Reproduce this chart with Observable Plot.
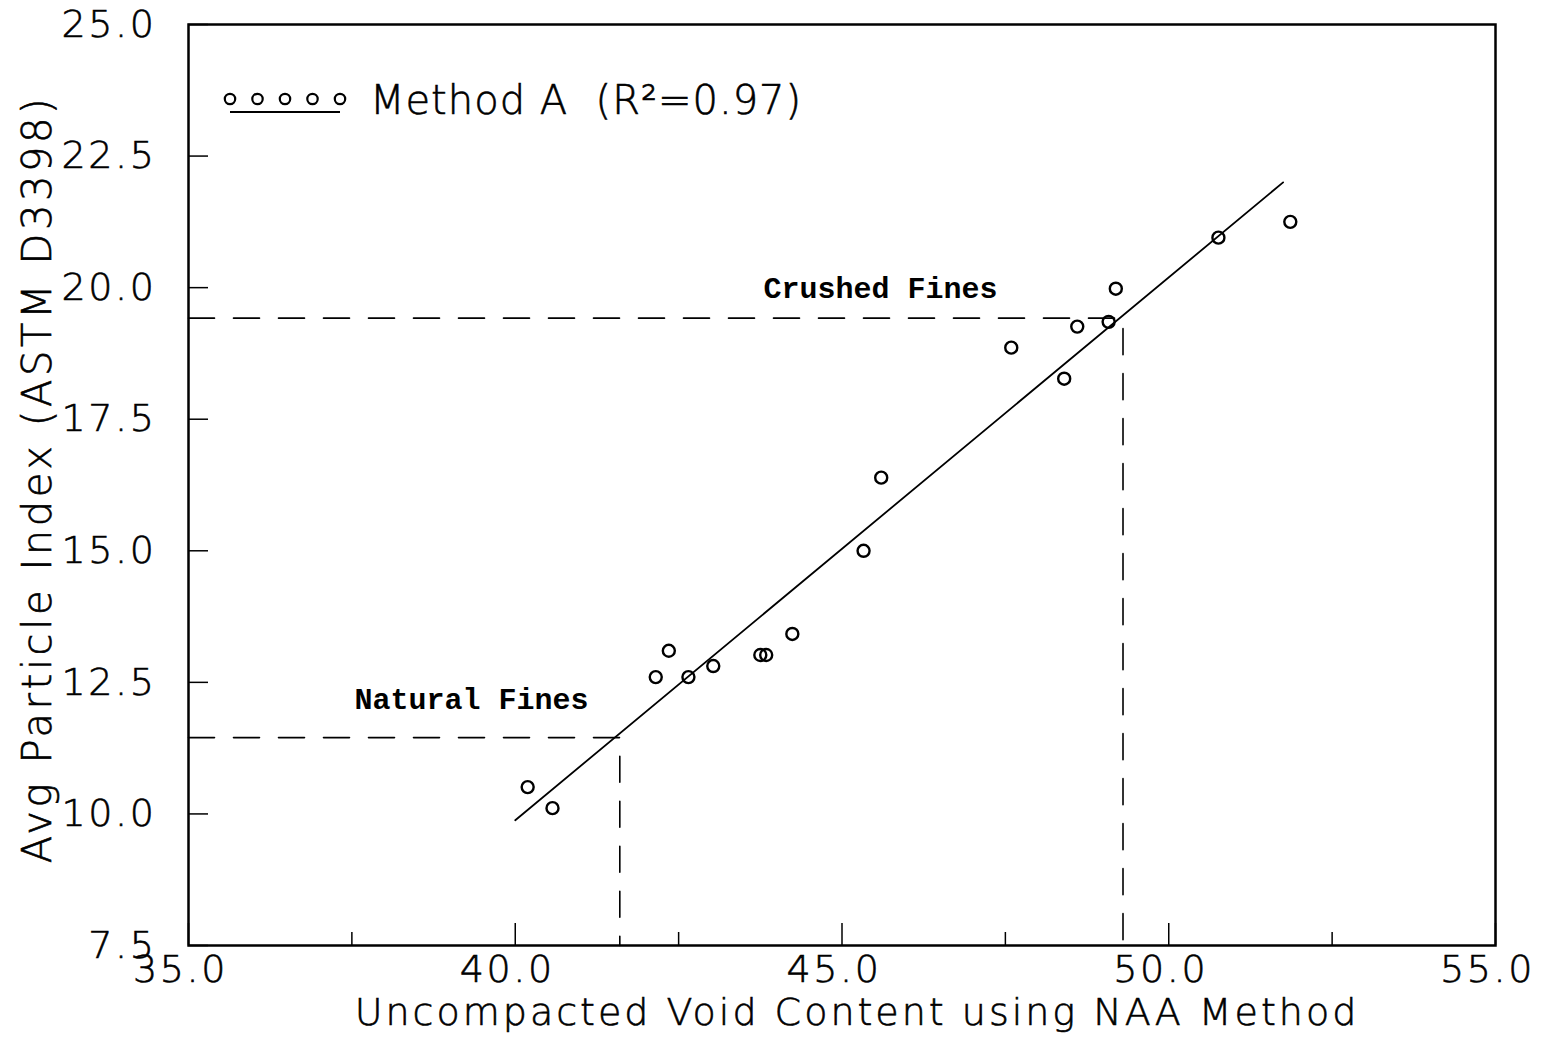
<!DOCTYPE html>
<html>
<head>
<meta charset="utf-8">
<script src="https://cdn.jsdelivr.net/npm/d3@7"></script>
<script src="https://cdn.jsdelivr.net/npm/@observablehq/plot@0.6"></script>
<style>
  html, body { margin: 0; padding: 0; background: #fff; }
  #chart { position: relative; width: 1541px; height: 1041px; }
  #chart svg { overflow: visible; }
  .sans text { letter-spacing: 2.6px; stroke: #000; stroke-width: 0.6px; }
</style>
</head>
<body>
<div id="chart"></div>
<script>
// Uncompacted void content (NAA) vs. average particle index (ASTM D3398), Method A
const voidContent   = [40.19, 40.57, 42.15, 42.35, 42.65, 43.03, 43.75, 43.84, 44.24, 45.33, 45.60, 47.59, 48.40, 48.60, 49.08, 49.19, 50.76, 51.86];
const particleIndex = [10.51, 10.11, 12.60, 13.10, 12.60, 12.81, 13.02, 13.02, 13.42, 15.00, 16.39, 18.86, 18.27, 19.26, 19.35, 19.98, 20.95, 21.25];

// regression line end points
const fitX = [40.0, 51.75];
const fitY = [9.88, 22.0];

// reference values for natural and crushed fines
const fineNames = ["Natural Fines", "Crushed Fines"];
const fineVoid  = [41.6, 49.3];
const fineIndex = [11.45, 19.42];
const fineLabelX = [39.33, 45.59];
const fineLabelY = [12.17, 19.98];

const xTicks = [35, 40, 45, 50, 55];
const xMinorTicks = [37.5, 42.5, 47.5, 52.5];
const yTicks = [7.5, 10, 12.5, 15, 17.5, 20, 22.5, 25];
const xLabel = "Uncompacted Void Content using NAA Method";
const yLabel = "Avg Particle Index (ASTM D3398)";
const legendLabel = "Method A  (R\u00B2=0.97)";

const xDomain = [35, 55];
const yDomain = [7.5, 25];

const points = voidContent.map((v, i) => ({x: v, y: particleIndex[i]}));
const fit = fitX.map((v, i) => ({x: v, y: fitY[i]}));
const guides = fineNames.flatMap((name, i) => [
  {name, x: xDomain[0], y: fineIndex[i]},
  {name, x: fineVoid[i], y: fineIndex[i]},
  {name, x: fineVoid[i], y: yDomain[0]}
]);
const fineLabels = fineNames.map((name, i) => ({name, x: fineLabelX[i], y: fineLabelY[i]}));

const sans = "'DejaVu Sans', sans-serif";

const chart = Plot.plot({
  width: 1541,
  height: 1041,
  marginLeft: 188,
  marginRight: 46,
  marginTop: 24,
  marginBottom: 96,
  className: "sans",
  style: {fontFamily: sans, fontWeight: 200, fontSize: "38px", color: "#000", background: "#fff"},
  x: {domain: xDomain},
  y: {domain: yDomain},
  marks: [
    // tick labels
    Plot.axisX({ticks: xTicks, tickSize: 0, tickPadding: 10, dx: -8, tickFormat: d3.format(".1f"), label: null, fontSize: 38}),
    Plot.axisY({ticks: yTicks, tickSize: 0, tickPadding: 32, tickFormat: d3.format(".1f"), label: null, fontSize: 38}),
    // inward ticks
    Plot.axisX({ticks: xTicks, tickSize: -22, text: null, label: null, strokeWidth: 1.5}),
    Plot.axisX({ticks: xMinorTicks, tickSize: -13, text: null, label: null, strokeWidth: 1.5}),
    Plot.axisY({ticks: yTicks, tickSize: -20, text: null, label: null, strokeWidth: 1.5}),
    // axis titles
    Plot.text([xLabel], {frameAnchor: "bottom", dx: 15, dy: 79, fontSize: 38, text: d => d}),
    Plot.text([yLabel], {frameAnchor: "left", dx: -150, dy: -6, rotate: -90, textAnchor: "middle", fontSize: 40, text: d => d}),
    // dashed guides
    Plot.line(guides, {x: "x", y: "y", z: "name", stroke: "#000", strokeWidth: 1.6, strokeDasharray: "26 19"}),
    Plot.text(fineLabels, {x: "x", y: "y", text: "name", fontFamily: "'Liberation Mono', monospace", fontWeight: "bold", fontSize: 30}),
    // regression line
    Plot.line(fit, {x: "x", y: "y", stroke: "#000", strokeWidth: 1.8}),
    // observations
    Plot.dot(points, {x: "x", y: "y", r: 6, stroke: "#000", strokeWidth: 2.4, fill: "none"}),
    Plot.frame({stroke: "#000", strokeWidth: 2.5})
  ]
});

document.getElementById("chart").appendChild(chart);

const svg = d3.select(chart);

// axis titles are spaced out more widely than tick labels
svg.selectAll("text")
  .filter(function() { return this.textContent === xLabel; })
  .style("letter-spacing", "3px");
svg.selectAll("text")
  .filter(function() { return this.textContent === yLabel; })
  .style("letter-spacing", "3.6px");

// the two fines annotations use plain monospace spacing
svg.selectAll("text")
  .filter(function() { return fineNames.includes(this.textContent); })
  .style("letter-spacing", "0px")
  .style("stroke", "none");

// legend: five circles over a short line, then the series label
const legend = svg.append("g").attr("class", "legend");
const legendDots = d3.range(5);
const lx = d3.scaleLinear().domain([0, 4]).range([230, 340]);
legend.selectAll("circle").data(legendDots).join("circle")
  .attr("cx", d => lx(d)).attr("cy", 99).attr("r", 5.2)
  .attr("fill", "none").attr("stroke", "#000").attr("stroke-width", 2.2);
legend.append("line")
  .attr("x1", lx(0)).attr("x2", lx(4)).attr("y1", 112).attr("y2", 112)
  .attr("stroke", "#000").attr("stroke-width", 2.2);
legend.append("text")
  .attr("x", 370).attr("y", 114)
  .attr("text-anchor", "start")
  .attr("font-size", 40).attr("fill", "#000")
  .style("letter-spacing", "1px")
  .style("white-space", "pre")
  .text(legendLabel);
</script>
</body>
</html>
